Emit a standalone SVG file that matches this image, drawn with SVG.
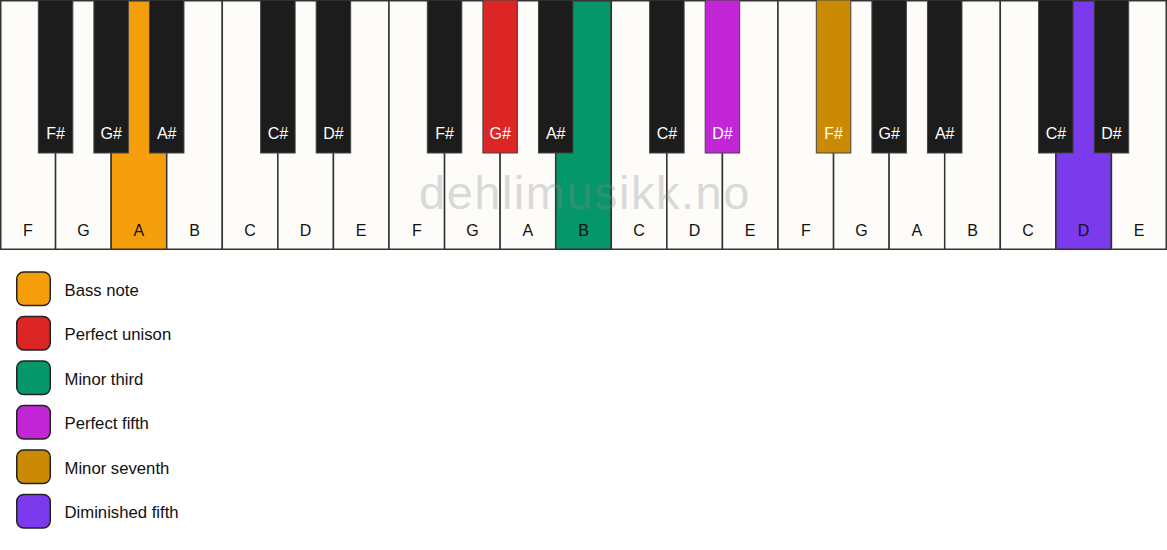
<svg xmlns="http://www.w3.org/2000/svg" width="1167" height="550" viewBox="0 0 1167 550">
<style>
.w{fill:#fdfcf9;stroke:#333;stroke-width:1.5}
.b{fill:#1c1c1c;stroke:#444;stroke-width:1}
.wl{font-family:"Liberation Sans",Arial,sans-serif;font-size:16px;fill:#111;text-anchor:middle}
.bl{font-family:"Liberation Sans",Arial,sans-serif;font-size:16px;fill:#fff;text-anchor:middle}
.sw{stroke:#222;stroke-width:1.5}
.lt{font-family:"Liberation Sans",Arial,sans-serif;font-size:16.7px;fill:#111}
.wm{font-family:"Liberation Sans",Arial,sans-serif;font-size:47px;fill:#8a8a8a;opacity:0.3;letter-spacing:1.5px}
</style>
<rect width="1167" height="550" fill="#ffffff"/>
<g id="white-keys">
<g id="w0"><rect class="w" x="0.75" y="0.75" width="54.82" height="248.5"/><text class="wl" x="27.79" y="236">F</text></g>
<g id="w1"><rect class="w" x="55.57" y="0.75" width="55.57" height="248.5"/><text class="wl" x="83.36" y="236">G</text></g>
<g id="w2"><rect class="w" x="111.14" y="0.75" width="55.57" height="248.5" style="fill:#f59e0b"/><text class="wl" x="138.93" y="236">A</text></g>
<g id="w3"><rect class="w" x="166.71" y="0.75" width="55.57" height="248.5"/><text class="wl" x="194.5" y="236">B</text></g>
<g id="w4"><rect class="w" x="222.29" y="0.75" width="55.57" height="248.5"/><text class="wl" x="250.07" y="236">C</text></g>
<g id="w5"><rect class="w" x="277.86" y="0.75" width="55.57" height="248.5"/><text class="wl" x="305.64" y="236">D</text></g>
<g id="w6"><rect class="w" x="333.43" y="0.75" width="55.57" height="248.5"/><text class="wl" x="361.21" y="236">E</text></g>
<g id="w7"><rect class="w" x="389" y="0.75" width="55.57" height="248.5"/><text class="wl" x="416.79" y="236">F</text></g>
<g id="w8"><rect class="w" x="444.57" y="0.75" width="55.57" height="248.5"/><text class="wl" x="472.36" y="236">G</text></g>
<g id="w9"><rect class="w" x="500.14" y="0.75" width="55.57" height="248.5"/><text class="wl" x="527.93" y="236">A</text></g>
<g id="w10"><rect class="w" x="555.71" y="0.75" width="55.57" height="248.5" style="fill:#059669"/><text class="wl" x="583.5" y="236">B</text></g>
<g id="w11"><rect class="w" x="611.29" y="0.75" width="55.57" height="248.5"/><text class="wl" x="639.07" y="236">C</text></g>
<g id="w12"><rect class="w" x="666.86" y="0.75" width="55.57" height="248.5"/><text class="wl" x="694.64" y="236">D</text></g>
<g id="w13"><rect class="w" x="722.43" y="0.75" width="55.57" height="248.5"/><text class="wl" x="750.21" y="236">E</text></g>
<g id="w14"><rect class="w" x="778" y="0.75" width="55.57" height="248.5"/><text class="wl" x="805.79" y="236">F</text></g>
<g id="w15"><rect class="w" x="833.57" y="0.75" width="55.57" height="248.5"/><text class="wl" x="861.36" y="236">G</text></g>
<g id="w16"><rect class="w" x="889.14" y="0.75" width="55.57" height="248.5"/><text class="wl" x="916.93" y="236">A</text></g>
<g id="w17"><rect class="w" x="944.71" y="0.75" width="55.57" height="248.5"/><text class="wl" x="972.5" y="236">B</text></g>
<g id="w18"><rect class="w" x="1000.29" y="0.75" width="55.57" height="248.5"/><text class="wl" x="1028.07" y="236">C</text></g>
<g id="w19"><rect class="w" x="1055.86" y="0.75" width="55.57" height="248.5" style="fill:#7c3aed"/><text class="wl" x="1083.64" y="236">D</text></g>
<g id="w20"><rect class="w" x="1111.43" y="0.75" width="54.82" height="248.5"/><text class="wl" x="1139.21" y="236">E</text></g>
</g>
<text class="wm" x="419" y="209">dehlimusikk.no</text>
<g id="black-keys">
<g id="b0"><rect class="b" x="38.32" y="0" width="34.5" height="153"/><text class="bl" x="55.57" y="138.5">F#</text></g>
<g id="b1"><rect class="b" x="93.89" y="0" width="34.5" height="153"/><text class="bl" x="111.14" y="138.5">G#</text></g>
<g id="b2"><rect class="b" x="149.46" y="0" width="34.5" height="153"/><text class="bl" x="166.71" y="138.5">A#</text></g>
<g id="b3"><rect class="b" x="260.61" y="0" width="34.5" height="153"/><text class="bl" x="277.86" y="138.5">C#</text></g>
<g id="b4"><rect class="b" x="316.18" y="0" width="34.5" height="153"/><text class="bl" x="333.43" y="138.5">D#</text></g>
<g id="b5"><rect class="b" x="427.32" y="0" width="34.5" height="153"/><text class="bl" x="444.57" y="138.5">F#</text></g>
<g id="b6"><rect class="b" x="482.89" y="0" width="34.5" height="153" style="fill:#dc2626"/><text class="bl" x="500.14" y="138.5">G#</text></g>
<g id="b7"><rect class="b" x="538.46" y="0" width="34.5" height="153"/><text class="bl" x="555.71" y="138.5">A#</text></g>
<g id="b8"><rect class="b" x="649.61" y="0" width="34.5" height="153"/><text class="bl" x="666.86" y="138.5">C#</text></g>
<g id="b9"><rect class="b" x="705.18" y="0" width="34.5" height="153" style="fill:#c026d3"/><text class="bl" x="722.43" y="138.5">D#</text></g>
<g id="b10"><rect class="b" x="816.32" y="0" width="34.5" height="153" style="fill:#ca8a04"/><text class="bl" x="833.57" y="138.5">F#</text></g>
<g id="b11"><rect class="b" x="871.89" y="0" width="34.5" height="153"/><text class="bl" x="889.14" y="138.5">G#</text></g>
<g id="b12"><rect class="b" x="927.46" y="0" width="34.5" height="153"/><text class="bl" x="944.71" y="138.5">A#</text></g>
<g id="b13"><rect class="b" x="1038.61" y="0" width="34.5" height="153"/><text class="bl" x="1055.86" y="138.5">C#</text></g>
<g id="b14"><rect class="b" x="1094.18" y="0" width="34.5" height="153"/><text class="bl" x="1111.43" y="138.5">D#</text></g>
</g>
<g id="legend">
<g id="leg-bass"><rect class="sw" x="16.75" y="272" width="33.5" height="33.5" rx="7" fill="#f59e0b"/><text class="lt" x="64.5" y="295.5">Bass note</text></g>
<g id="leg-unison"><rect class="sw" x="16.75" y="316.5" width="33.5" height="33.5" rx="7" fill="#dc2626"/><text class="lt" x="64.5" y="340">Perfect unison</text></g>
<g id="leg-m3"><rect class="sw" x="16.75" y="361" width="33.5" height="33.5" rx="7" fill="#059669"/><text class="lt" x="64.5" y="384.5">Minor third</text></g>
<g id="leg-p5"><rect class="sw" x="16.75" y="405.5" width="33.5" height="33.5" rx="7" fill="#c026d3"/><text class="lt" x="64.5" y="429">Perfect fifth</text></g>
<g id="leg-m7"><rect class="sw" x="16.75" y="450" width="33.5" height="33.5" rx="7" fill="#ca8a04"/><text class="lt" x="64.5" y="473.5">Minor seventh</text></g>
<g id="leg-d5"><rect class="sw" x="16.75" y="494.5" width="33.5" height="33.5" rx="7" fill="#7c3aed"/><text class="lt" x="64.5" y="518">Diminished fifth</text></g>
</g>
</svg>
